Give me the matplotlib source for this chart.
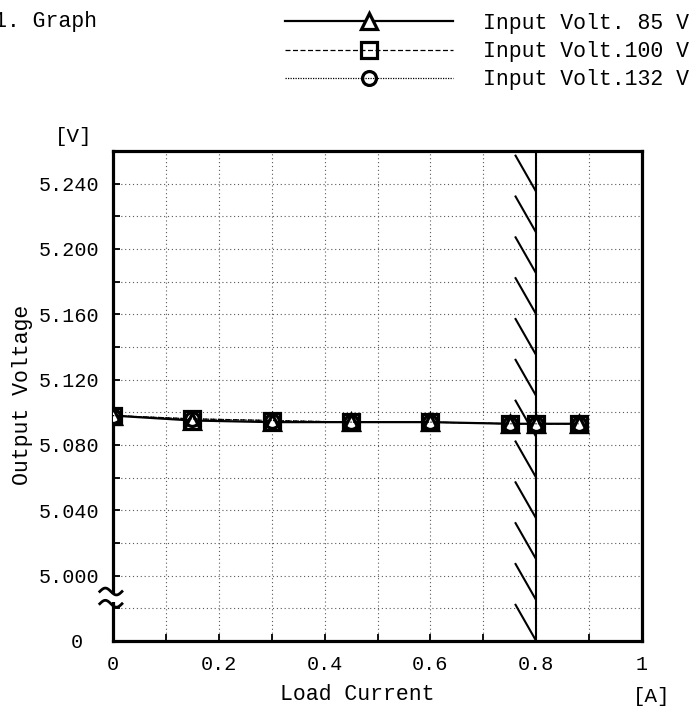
import matplotlib
matplotlib.use('Agg')
import matplotlib.pyplot as plt
import numpy as np
from matplotlib.patches import Rectangle
from matplotlib.transforms import ScaledTranslation

# ---------------- data ----------------
load_current = [0.0, 0.15, 0.30, 0.45, 0.60, 0.75, 0.80, 0.88]
vout_85 = [5.098, 5.095, 5.094, 5.094, 5.094, 5.093, 5.093, 5.093]
vout_100 = [5.098, 5.096, 5.095, 5.094, 5.094, 5.093, 5.093, 5.093]
vout_132 = [5.098, 5.096, 5.095, 5.094, 5.094, 5.093, 5.093, 5.093]
series_labels = ['Input Volt. 85 V', 'Input Volt.100 V', 'Input Volt.132 V']
x_ticks = [0, 0.2, 0.4, 0.6, 0.8, 1.0]
x_tick_labels = ['0', '0.2', '0.4', '0.6', '0.8', '1']
y_ticks = [4.96, 5.00, 5.04, 5.08, 5.12, 5.16, 5.20, 5.24]
y_tick_labels = ['0', '5.000', '5.040', '5.080', '5.120', '5.160', '5.200', '5.240']
rated_current = 0.8

FONT = ['Liberation Mono', 'DejaVu Sans Mono']
plt.rcParams['font.family'] = FONT

W, H = 692, 708
fig = plt.figure(figsize=(W / 100, H / 100), dpi=100)
ax = fig.add_axes([113 / W, (H - 641) / H, 529 / W, 490 / H])

ax.set_xlim(0, 1)
ax.set_ylim(4.96, 5.26)

# grid
ax.set_xticks(x_ticks)
ax.set_xticklabels(x_tick_labels)
ax.set_xticks(np.arange(0.1, 1.0, 0.2), minor=True)
ax.set_yticks(y_ticks)
ax.set_yticklabels(y_tick_labels)
ax.set_yticks(np.arange(4.98, 5.25, 0.04), minor=True)
ax.grid(True, which='both', color='0.35', lw=0.8, ls=(0, (1, 2.5)))
ax.set_axisbelow(True)

ax.tick_params(which='both', direction='in', length=5, width=1.3,
               top=False, right=False, pad=10, labelsize=14.5)
for sp in ax.spines.values():
    sp.set_linewidth(2.3)

# shift the "0" y tick label left a bit
lbl0 = ax.get_yticklabels()[0]
lbl0.set_transform(lbl0.get_transform() + ScaledTranslation(-16 / 100, 0, fig.dpi_scale_trans))

# rated-current limit with hatching
ax.axvline(rated_current, color='black', lw=1.5, zorder=3)
for k in range(12):
    y_end = 4.96 + k * 0.025
    ax.plot([rated_current - 0.04, rated_current], [y_end + 0.0227, y_end],
            color='black', lw=1.5, zorder=3, solid_capstyle='butt')

# series
l1, = ax.plot(load_current, vout_85, color='black', lw=1.6, ls='-',
              marker='^', ms=12, mfc='white', mec='black', mew=2.3,
              label=series_labels[0], zorder=6)
l2, = ax.plot(load_current, vout_100, color='black', lw=0.9, ls=(0, (4, 2)),
              marker='s', ms=12, mfc='none', mec='black', mew=2.3,
              label=series_labels[1], zorder=5)
l3, = ax.plot(load_current, vout_132, color='black', lw=0.9, ls=(0, (1, 1)),
              marker='o', ms=10, mfc='none', mec='black', mew=2.3,
              label=series_labels[2], zorder=7)

# axis break symbol on the y axis
ax.add_patch(Rectangle((-0.01, 0.080), 0.02, 0.018, transform=ax.transAxes,
                       facecolor='white', edgecolor='none', clip_on=False, zorder=9))
t = np.linspace(0, 1, 40)
for yc in (0.101, 0.076):
    xs = -0.025 + 0.042 * t
    ys = yc + 0.007 * np.sin(2 * np.pi * t)
    ax.plot(xs, ys, transform=ax.transAxes, color='black', lw=2.0,
            clip_on=False, zorder=10)

# labels
ax.set_xlabel('Load Current', fontsize=15.5, va='center')
ax.xaxis.set_label_coords((357 - 113) / 529, (641 - 694) / 490)
ax.set_ylabel('Output Voltage', fontsize=15.5, va='center')
ax.yaxis.set_label_coords((23 - 113) / 529, (641 - 395) / 490)

fig.text(74 / W, 1 - 137 / H, '[V]', ha='center', va='center', fontsize=15)
fig.text(652 / W, 1 - 696 / H, '[A]', ha='center', va='center', fontsize=15)
fig.text(-6 / W, 1 - 22 / H, '1. Graph', ha='left', va='center', fontsize=15.5)

fig.legend(handles=[l1, l2, l3], loc='upper left',
           bbox_to_anchor=(285 / W, 1 - 13 / H), frameon=False,
           fontsize=15.5, handlelength=7.8, handletextpad=1.4,
           labelspacing=0.33, borderpad=0, borderaxespad=0, numpoints=1)

fig.savefig('out.png', dpi=100)
